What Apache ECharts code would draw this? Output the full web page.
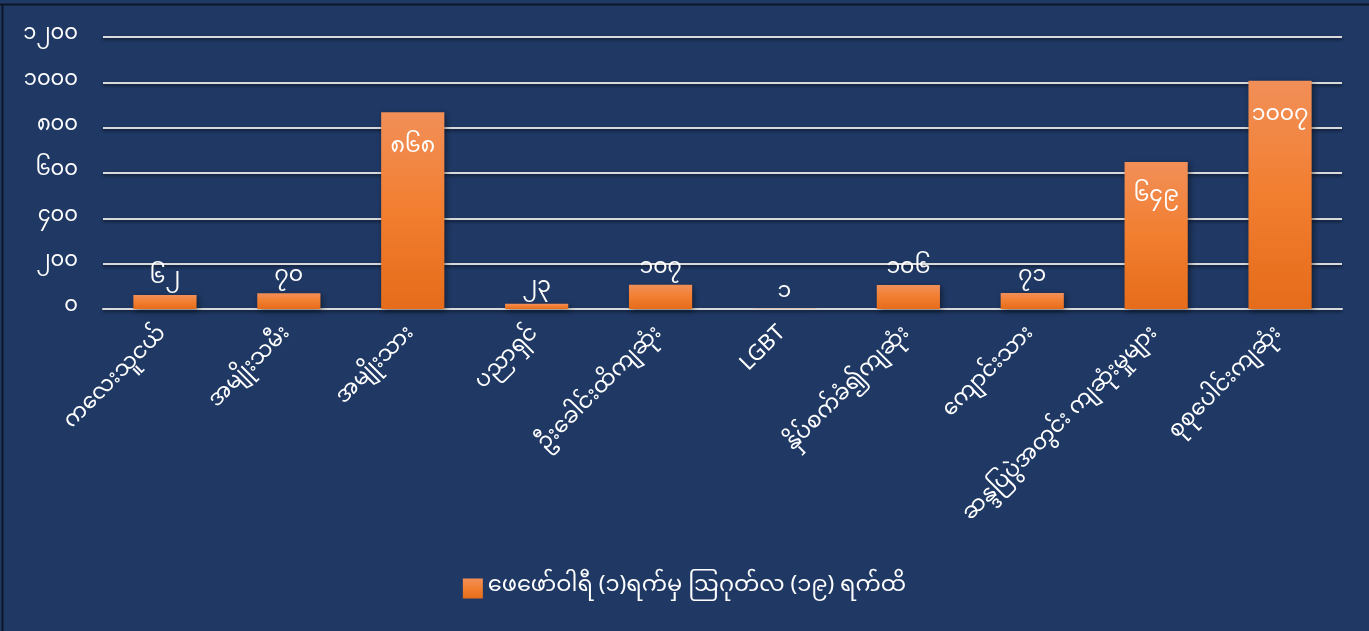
<!DOCTYPE html>
<html>
<head>
<meta charset="utf-8">
<script src="https://cdn.jsdelivr.net/npm/echarts@6/dist/echarts.min.js"></script>
<style>
html,body{margin:0;padding:0;background:#1f3864;}
#chart{width:1369px;height:631px;}
</style>
</head>
<body>
<div id="chart"></div>
<script>
const categories = ['ကလေးသူငယ်','အမျိုးသမီး','အမျိုးသား','ပညာရှင်','ဦးခေါင်းထိကျဆုံး','LGBT','နှိပ်စက်ခံ၍ကျဆုံး','ကျောင်းသား','ဆန္ဒပြပွဲအတွင်း ကျဆုံးမှုများ','စုစုပေါင်းကျဆုံး'];
const values = [62, 70, 868, 23, 107, 1, 106, 71, 649, 1007];
const valueLabels = ['၆၂','၇၀','၈၆၈','၂၃','၁၀၇','၁','၁၀၆','၇၁','၆၄၉','၁၀၀၇'];
const tickValues = [0, 200, 400, 600, 800, 1000, 1200];
const tickLabels = ['၀','၂၀၀','၄၀၀','၆၀၀','၈၀၀','၁၀၀၀','၁၂၀၀'];
const seriesName = 'ဖေဖော်ဝါရီ (၁)ရက်မှ ဩဂုတ်လ (၁၉) ရက်ထိ';
const insideThreshold = 500;

const FONT = "'Noto Sans Myanmar','Padauk','Myanmar Text','Noto Sans',sans-serif";
const chart = echarts.init(document.getElementById('chart'));
const barColor = new echarts.graphic.LinearGradient(0,0,0,1,[
  {offset:0,color:'#f18f58'},
  {offset:0.5,color:'#f27e30'},
  {offset:1,color:'#e56c1a'}
]);
const data = values.map((v,i)=>({
  value:v,
  label: v > insideThreshold ? {position:'insideTop', distance:26} : {position:'top', distance:3}
}));
chart.setOption({
  backgroundColor:'#1f3864',
  animation:false,
  graphic:[
    {type:'line', shape:{x1:0,y1:4.5,x2:1369,y2:4.5}, style:{stroke:'#0d1626',lineWidth:2}},
    {type:'line', shape:{x1:2.5,y1:4,x2:2.5,y2:631}, style:{stroke:'#0d1626',lineWidth:2}}
  ],
  grid:{left:103,right:27,top:37,bottom:322,containLabel:false},
  legend:{
    bottom:26,left:'center',
    itemWidth:20,itemHeight:20,itemGap:7,
    icon:'rect',
    textStyle:{color:'#ffffff',fontSize:22.5,fontFamily:FONT},
    data:[seriesName]
  },
  xAxis:{
    type:'category',
    data:categories,
    axisLine:{lineStyle:{color:'#d9d9d9',width:2}},
    axisTick:{show:false},
    axisLabel:{color:'#ffffff',fontSize:22,fontFamily:FONT,rotate:45,margin:23,interval:0}
  },
  yAxis:{
    type:'value',
    min:0,max:1200,interval:200,
    axisLine:{show:false},
    axisTick:{show:false},
    splitLine:{lineStyle:{color:'#d9d9d9',width:2,shadowColor:'rgba(0,0,0,0.5)',shadowBlur:3,shadowOffsetY:2}},
    axisLabel:{color:'#ffffff',fontSize:21,fontFamily:FONT,margin:25,
      formatter:(v)=>{const i=tickValues.indexOf(v);return i>=0?tickLabels[i]:'';}}
  },
  series:[{
    name:seriesName,
    type:'bar',
    data:data,
    barWidth:'51%',
    itemStyle:{color:barColor,shadowColor:'rgba(0,0,0,0.45)',shadowBlur:6,shadowOffsetX:2,shadowOffsetY:2},
    label:{show:true,color:'#ffffff',fontSize:22,fontFamily:FONT,
      formatter:(p)=>valueLabels[p.dataIndex]}
  }]
});
</script>
</body>
</html>
